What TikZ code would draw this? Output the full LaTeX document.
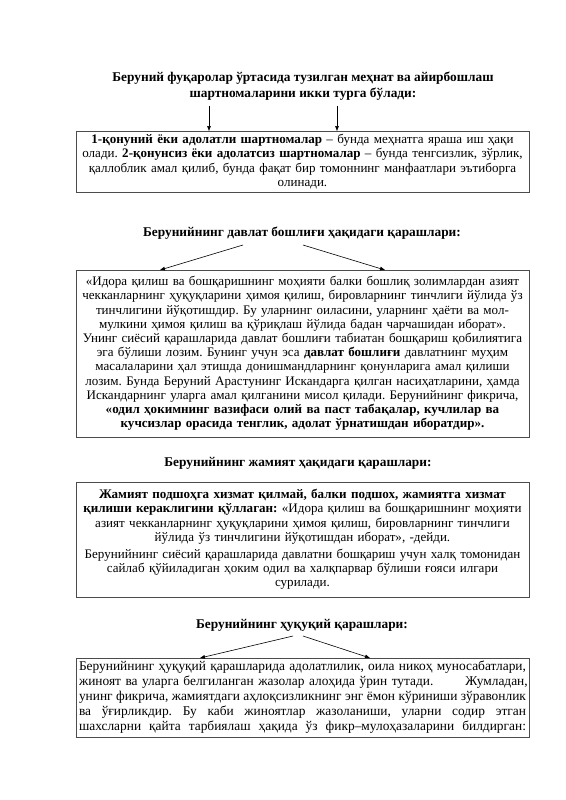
\documentclass[tikz,border=0pt]{standalone}
\usepackage{fontspec}
\setmainfont{Liberation Serif}
\usetikzlibrary{arrows.meta}
\frenchspacing
\newcommand{\jline}[1]{\hbox to \hsize{\spaceskip=\fontdimen2\font plus 1fil minus 1pt\relax #1}}
\begin{document}
\begin{tikzpicture}[x=1pt,y=-1pt,
  every node/.style={inner sep=0pt, outer sep=0pt},
  txt/.style={font=\fontsize{13.05}{14.2}\selectfont},
  ttl/.style={font=\fontsize{13.35}{16.5}\selectfont\bfseries, align=center},
  boxnode/.style={draw=black!70, line width=0.8pt, minimum width=453pt, inner xsep=3pt, text width=447pt, align=center, txt},
  arr/.style={-{Triangle[length=5pt,width=3.6pt]}, line width=0.6pt, black}
]
\useasboundingbox (0,0) rectangle (565,800);

% Title 1
\node[ttl] (t1) at (303,86) {Беруний фуқаролар ўртасида тузилган меҳнат ва айирбошлаш\\шартномаларини икки турга бўлади:};

% Box 1
\node[boxnode, minimum height=61pt] (b1) at (302.5,161.5) {\textbf{1-қонуний ёки адолатли шартномалар} – бунда меҳнатга яраша иш ҳақи\\ олади. \textbf{2-қонунсиз ёки адолатсиз шартномалар} – бунда тенгсизлик, зўрлик,\\ қаллоблик амал қилиб, бунда фақат бир томоннинг манфаатлари эътиборга\\ олинади.};

\draw[arr] (t1.south -| 209,0) ++(0,6) -- (b1.north -| 209,0);
\draw[arr] (t1.south -| 337,0) ++(0,6) -- (b1.north -| 337,0);

% Title 2
\node[ttl] (t2) at (302,233) {Берунийнинг давлат бошлиғи ҳақидаги қарашлари:};

% Box 2
\node[boxnode, minimum height=167pt] (b2) at (302.5,353.5) {«Идора қилиш ва бошқаришнинг моҳияти балки бошлиқ золимлардан азият\\
чекканларнинг ҳуқуқларини ҳимоя қилиш, бировларнинг тинчлиги йўлида ўз\\
тинчлигини йўқотишдир. Бу уларнинг оиласини, уларнинг ҳаёти ва мол-\\
мулкини ҳимоя қилиш ва қўриқлаш йўлида бадан чарчашидан иборат».\\
Унинг сиёсий қарашларида давлат бошлиғи табиатан бошқариш қобилиятига\\
эга бўлиши лозим. Бунинг учун эса \textbf{давлат бошлиғи} давлатнинг муҳим\\
масалаларини ҳал этишда донишмандларнинг қонунларига амал қилиши\\
лозим. Бунда Беруний Арастунинг Искандарга қилган насиҳатларини, ҳамда\\
Искандарнинг уларга амал қилганини мисол қилади. Берунийнинг фикрича,\\
\textbf{«одил ҳокимнинг вазифаси олий ва паст табақалар, кучлилар ва}\\
\textbf{кучсизлар орасида тенглик, адолат ўрнатишдан иборатдир».}};

\coordinate (t2l) at (243,245);
\coordinate (t2r) at (303,245);
\draw[arr] (t2l) -- (b2.north -| 160,0);
\draw[arr] (t2r) -- (b2.north -| 385,0);

% Title 3
\node[ttl] (t3) at (298,463) {Берунийнинг жамият ҳақидаги қарашлари:};

% Box 3
\node[boxnode, minimum height=115pt] (b3) at (302.5,539.5) {\textbf{Жамият подшоҳга хизмат қилмай, балки подшох, жамиятга хизмат}\\
\textbf{қилиши кераклигини қўллаган:} «Идора қилиш ва бошқаришнинг моҳияти\\
азият чекканларнинг ҳуқуқларини ҳимоя қилиш, бировларнинг тинчлиги\\
йўлида ўз тинчлигини йўқотишдан иборат», -дейди.\\[3pt]
Берунийнинг сиёсий қарашларида давлатни бошқариш учун халқ томонидан\\
сайлаб қўйиладиган ҳоким одил ва халқпарвар бўлиши ғояси илгари\\
сурилади.};

% Title 4
\node[ttl] (t4) at (302,625) {Берунийнинг ҳуқуқий қарашлари:};

% Box 4
\node[boxnode, minimum height=79pt, align=left, font=\fontsize{13.4}{15}\selectfont] (b4) at (302.5,697.5) {%
\jline{Берунийнинг ҳуқуқий қарашларида адолатлилик, оила никоҳ муносабатлари,}
\hbox to \hsize{жиноят ва уларга белгиланган жазолар алоҳида ўрин тутади.\hspace{32pt}Жумладан,\hfil}
\jline{унинг фикрича, жамиятдаги аҳлоқсизликнинг энг ёмон кўриниши зўравонлик}
\jline{ва ўғирликдир. Бу каби жиноятлар жазоланиши, уларни содир этган}
\jline{шахсларни қайта тарбиялаш ҳақида ўз фикр–мулоҳазаларини билдирган:}};

\coordinate (t4l) at (293,636);
\coordinate (t4r) at (303,636);
\draw[arr] (t4l) -- (b4.north -| 200,0);
\draw[arr] (t4r) -- (b4.north -| 370,0);
\end{tikzpicture}
\end{document}
